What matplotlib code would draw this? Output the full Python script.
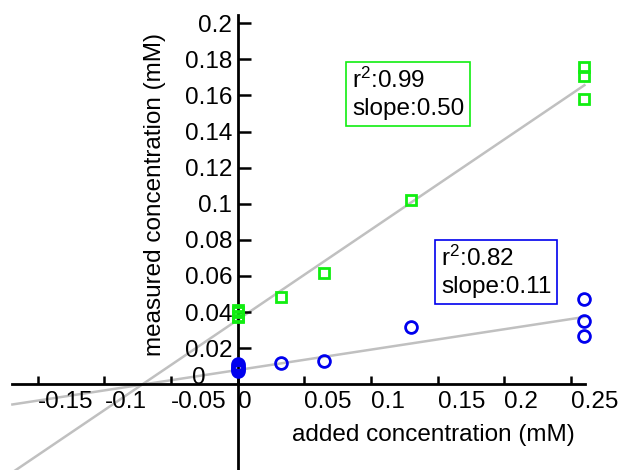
import numpy as np
import matplotlib
matplotlib.use('Agg')
from matplotlib import pyplot as plt

plt.rcParams['font.family'] = ['Liberation Sans', 'DejaVu Sans']
plt.rcParams['mathtext.default'] = 'regular'
plt.rcParams['font.size'] = 17.5

# standard addition: added vs measured concentration (mM)
green_x = [0, 0, 0, 0, 0.0325, 0.065, 0.13, 0.26, 0.26, 0.26]
green_y = [0.037, 0.038, 0.040, 0.041, 0.0485, 0.0617, 0.102, 0.1756, 0.1708, 0.158]
blue_x = [0, 0, 0, 0, 0, 0.0325, 0.065, 0.13, 0.26, 0.26, 0.26]
blue_y = [0.0072, 0.0082, 0.0092, 0.0102, 0.0112, 0.0116, 0.0129, 0.0317, 0.047, 0.0352, 0.0268]

# linear fits (slope, intercept) and r^2
green_fit = (0.50, 0.0357)
blue_fit = (0.113, 0.0079)
green_r2 = 0.99
blue_r2 = 0.82

x_ticks = [-0.15, -0.1, -0.05, 0, 0.05, 0.1, 0.15, 0.2, 0.25]
x_labels = ['-0.15', '-0.1', '-0.05', '0', '0.05', '0.1', '0.15', '0.2', '0.25']
y_ticks = [0.02, 0.04, 0.06, 0.08, 0.1, 0.12, 0.14, 0.16, 0.18, 0.2]
y_labels = ['0.02', '0.04', '0.06', '0.08', '0.1', '0.12', '0.14', '0.16', '0.18', '0.2']

green = '#11ee11'
blue = '#0000ee'
grey = '#c0c0c0'

fig = plt.figure(figsize=(6.22, 4.70), dpi=100)
ax = fig.add_axes([0, 0, 1, 1])
ax.set_xlim(-0.1783, 0.2882)
ax.set_ylim(-0.0475, 0.2129)

# fit lines first so markers sit on top
xs = np.array([-0.169, 0.26])
ax.plot(xs, green_fit[0] * xs + green_fit[1], color=grey, lw=1.8, zorder=1)
ax.plot(xs, blue_fit[0] * xs + blue_fit[1], color=grey, lw=1.8, zorder=1)

ax.plot(green_x, green_y, ls='none', marker='s', ms=7, mfc='none',
        mec=green, mew=2, zorder=3)
ax.plot(blue_x, blue_y, ls='none', marker='o', ms=8.5, mfc='none',
        mec=blue, mew=2, zorder=3)

# axes crossing at the origin
for s in ['top', 'right']:
    ax.spines[s].set_visible(False)
ax.spines['left'].set_position(('data', 0))
ax.spines['bottom'].set_position(('data', 0))
ax.spines['left'].set_bounds(-0.0475, 0.2045)
ax.spines['bottom'].set_bounds(-0.169, 0.2605)
ax.spines['left'].set_linewidth(2)
ax.spines['bottom'].set_linewidth(2)
ax.spines['left'].set_zorder(2)
ax.spines['bottom'].set_zorder(2)

ax.set_xticks(x_ticks)
ax.set_xticklabels(x_labels)
ax.set_yticks(y_ticks)
ax.set_yticklabels(y_labels)
ax.tick_params(axis='x', direction='in', length=6, width=1.8, pad=5)
ax.tick_params(axis='y', direction='in', length=9.5, width=1.8, pad=4)
for lab in ax.get_xticklabels():
    lab.set_ha('left')

# the y-axis zero sits apart, left of the other labels
ax.text(-0.0295, 0.0035, '0', ha='center', va='center')

fig.text(433 / 622, 1 - 435 / 470, 'added concentration (mM)',
         ha='center', va='center')
fig.text(155 / 622, 1 - 195 / 470, 'measured concentration (mM)',
         ha='center', va='center', rotation=90)

ax.text(352 / 622, 1 - 68 / 470,
        'r$^{2}$:%.2f\nslope:%.2f' % (green_r2, green_fit[0]),
        transform=ax.transAxes, ha='left', va='top', zorder=4, linespacing=1.3,
        bbox=dict(boxstyle='square,pad=0.25', fc='white', ec=green, lw=1.2))
ax.text(441 / 622, 1 - 246 / 470,
        'r$^{2}$:%.2f\nslope:%.2f' % (blue_r2, blue_fit[0]),
        transform=ax.transAxes, ha='left', va='top', zorder=4, linespacing=1.3,
        bbox=dict(boxstyle='square,pad=0.25', fc='white', ec=blue, lw=1.2))

fig.savefig('out.png', dpi=100)
